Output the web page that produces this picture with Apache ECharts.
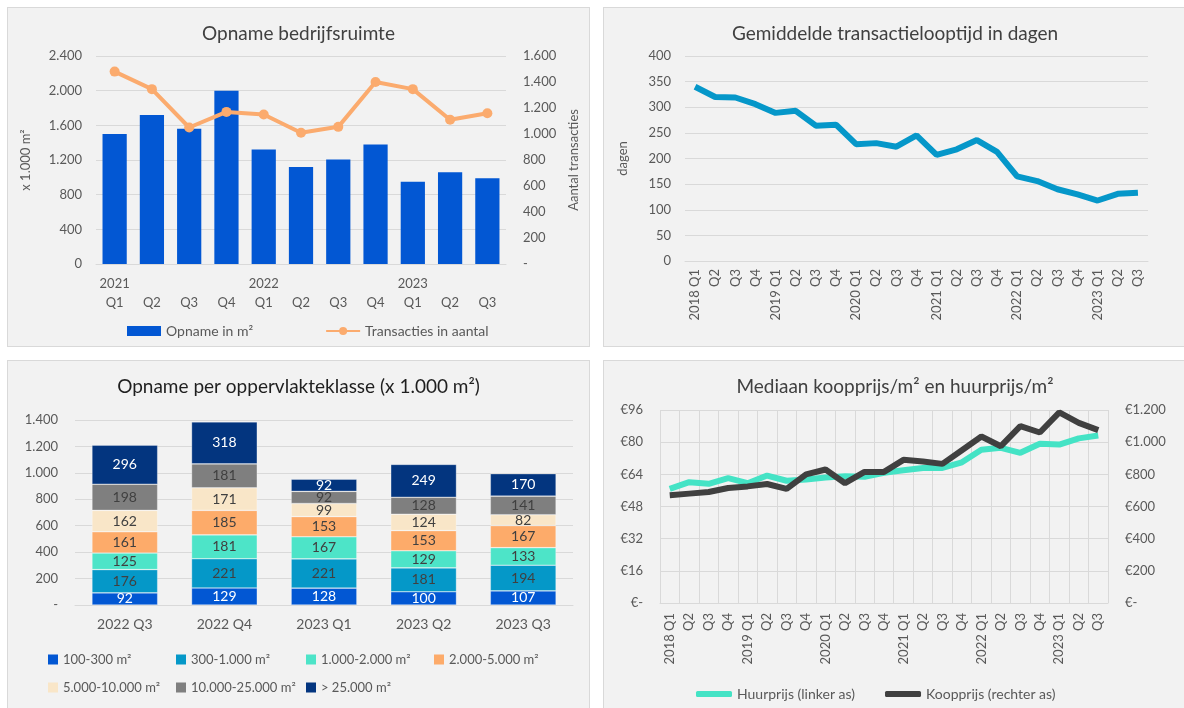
<!DOCTYPE html>
<html>
<head>
<meta charset="utf-8">
<script src="https://cdn.jsdelivr.net/npm/echarts@6/dist/echarts.min.js"></script>
<style>
  body { margin: 0; background: #fff; width: 1184px; height: 708px; overflow: hidden; position: relative; }
  .paneel { position: absolute; background: #f2f2f2; border: 1px solid #d9d9d9; box-sizing: border-box; }
  #opname_show { left: 7px; top: 7px; width: 583px; height: 340px; }
  #looptijd_show { left: 603px; top: 7px; width: 584px; height: 340px; }
  #klasse_show { left: 7px; top: 360px; width: 583px; height: 352px; }
  #prijs_show { left: 603px; top: 360px; width: 584px; height: 352px; }
</style>
</head>
<body>
<div class="paneel" id="opname_show"></div>
<div class="paneel" id="looptijd_show"></div>
<div class="paneel" id="klasse_show"></div>
<div class="paneel" id="prijs_show"></div>
<script>
// ---- data ----
// 1. opname bedrijfsruimte
const kwartalen1 = ['2021 Q1', '2021 Q2', '2021 Q3', '2021 Q4', '2022 Q1', '2022 Q2', '2022 Q3', '2022 Q4', '2023 Q1', '2023 Q2', '2023 Q3'];
const opname = [1500, 1720, 1560, 2000, 1320, 1120, 1205, 1380, 950, 1060, 990];
const transacties = [1480, 1345, 1050, 1170, 1150, 1010, 1055, 1400, 1345, 1110, 1160];

// 2. transactielooptijd (en 4. prijzen) per kwartaal
const kwartalen2 = ['2018 Q1', '2018 Q2', '2018 Q3', '2018 Q4', '2019 Q1', '2019 Q2', '2019 Q3', '2019 Q4',
  '2020 Q1', '2020 Q2', '2020 Q3', '2020 Q4', '2021 Q1', '2021 Q2', '2021 Q3', '2021 Q4',
  '2022 Q1', '2022 Q2', '2022 Q3', '2022 Q4', '2023 Q1', '2023 Q2', '2023 Q3'];
const looptijd = [340, 320, 319, 306, 289, 293, 264, 266, 228, 230, 223, 245, 207, 218, 236, 213, 165, 156, 140, 130, 118, 131, 133];

// 3. opname per oppervlakteklasse
const kwartalen3 = ['2022 Q3', '2022 Q4', '2023 Q1', '2023 Q2', '2023 Q3'];
const klassen = ['100-300 m²', '300-1.000 m²', '1.000-2.000 m²', '2.000-5.000 m²', '5.000-10.000 m²', '10.000-25.000 m²', '> 25.000 m²'];
const k100 = [92, 129, 128, 100, 107];
const k300 = [176, 221, 221, 181, 194];
const k1000 = [125, 181, 167, 129, 133];
const k2000 = [161, 185, 153, 153, 167];
const k5000 = [162, 171, 99, 124, 82];
const k10000 = [198, 181, 92, 128, 141];
const k25000 = [296, 318, 92, 249, 170];

// 4. mediaan prijzen
const huurprijs = [56.8, 60.1, 59.3, 62.1, 59.6, 63.4, 60.8, 61.4, 62.4, 63, 62.8, 64.8, 66, 67.2, 67.2, 70, 76.2, 77.2, 74.7, 79.2, 78.8, 81.9, 83.3];
const koopprijs = [670, 680, 690, 715, 725, 740, 710, 800, 830, 745, 815, 815, 890, 880, 865, 950, 1035, 975, 1100, 1060, 1185, 1120, 1075];

// ---- hulpfuncties ----
const font = 'Lato, "Noto Sans", sans-serif';
const grijs = '#595959';
const lijn = '#d9d9d9';
// duizendtallen met punt
function punt(v) {
  return String(v).replace(/\B(?=(\d{3})+(?!\d))/g, '.');
}
function streep(v) {
  return v === 0 ? '-' : punt(v);
}
function kwartaal(v) {
  return v.endsWith('Q1') ? v : v.slice(5);
}
function titel(tekst, kleur) {
  return {
    text: tekst, left: 'center', top: 16, padding: 0,
    textStyle: { fontSize: 19, fontWeight: 'normal', color: kleur || '#404040', fontFamily: font }
  };
}

// 1. staaf + lijn
function opnameChart() {
  const myChart = echarts.init(document.getElementById('opname_show'));
  const option = {
    textStyle: { fontFamily: font },
    title: titel('Opname bedrijfsruimte'),
    legend: {
      top: 316, left: 119, padding: 0, itemGap: 72, itemWidth: 34, itemHeight: 10,
      textStyle: { fontSize: 14, color: grijs },
      data: [{ name: 'Opname in m²', icon: 'rect' }, 'Transacties in aantal']
    },
    grid: { left: 88, top: 48, width: 410, height: 208 },
    xAxis: {
      type: 'category',
      data: kwartalen1,
      axisTick: { show: false },
      axisLine: { lineStyle: { color: lijn } },
      axisLabel: {
        interval: 0, color: grijs, fontSize: 13, lineHeight: 19, margin: 10,
        formatter: v => v.endsWith('Q1') ? v.replace(' ', '\n') : '\n' + v.slice(5)
      }
    },
    yAxis: [{
      type: 'value', min: 0, max: 2400, interval: 400,
      name: 'x 1.000 m²', nameLocation: 'middle', nameGap: 64,
      nameTextStyle: { fontSize: 13, color: grijs },
      axisLabel: { color: grijs, fontSize: 13, margin: 14, formatter: punt },
      splitLine: { lineStyle: { color: lijn } }
    }, {
      type: 'value', min: 0, max: 1600, interval: 200,
      name: 'Aantal transacties', nameLocation: 'middle', nameGap: 55,
      nameTextStyle: { fontSize: 13, color: grijs },
      axisLabel: { color: grijs, fontSize: 13, margin: 17, formatter: streep },
      splitLine: { show: false }
    }],
    series: [{
      name: 'Opname in m²',
      type: 'bar',
      data: opname,
      barCategoryGap: '35%',
      itemStyle: { color: '#0257d3' }
    }, {
      name: 'Transacties in aantal',
      type: 'line',
      yAxisIndex: 1,
      data: transacties,
      symbol: 'circle',
      symbolSize: 10,
      lineStyle: { width: 4, color: '#fbab6e' },
      itemStyle: { color: '#fbab6e' }
    }]
  };
  myChart.setOption(option);
}

// 2. lijn looptijd
function looptijdChart() {
  const myChart = echarts.init(document.getElementById('looptijd_show'));
  const option = {
    textStyle: { fontFamily: font },
    title: titel('Gemiddelde transactielooptijd in dagen'),
    grid: { left: 81, top: 48, width: 463, height: 205 },
    xAxis: {
      type: 'category',
      data: kwartalen2,
      axisTick: { show: false },
      axisLine: { lineStyle: { color: lijn } },
      axisLabel: { interval: 0, rotate: 90, color: grijs, fontSize: 13, margin: 8, formatter: kwartaal }
    },
    yAxis: {
      type: 'value', min: 0, max: 400, interval: 50,
      name: 'dagen', nameLocation: 'middle', nameGap: 56,
      nameTextStyle: { fontSize: 13, color: grijs },
      axisLabel: { color: grijs, fontSize: 13, margin: 14 },
      splitLine: { lineStyle: { color: lijn } }
    },
    series: [{
      type: 'line',
      data: looptijd,
      showSymbol: false,
      lineStyle: { width: 6, color: '#0597c9' }
    }]
  };
  myChart.setOption(option);
}

// 3. gestapelde staaf
function klasseChart() {
  const myChart = echarts.init(document.getElementById('klasse_show'));
  const kleuren = ['#0257d3', '#0598c8', '#4de4c8', '#fdab6a', '#f9e6c8', '#7f7f7f', '#03357f'];
  const waarden = [k100, k300, k1000, k2000, k5000, k10000, k25000];
  const series = klassen.map((naam, i) => ({
    name: naam,
    type: 'bar',
    stack: 'totaal',
    data: waarden[i],
    barCategoryGap: '34%',
    itemStyle: { color: kleuren[i], borderColor: 'rgba(255,255,255,0.5)', borderWidth: 0.6 },
    label: {
      show: true, position: 'inside', fontSize: 14,
      color: (i === 0 || i === 6) ? '#ffffff' : '#404040'
    }
  }));
  const legendaStijl = {
    orient: 'vertical', top: 292, padding: 0, itemGap: 15, itemWidth: 10, itemHeight: 10, icon: 'rect',
    itemStyle: { borderWidth: 0 },
    textStyle: { fontSize: 13, color: grijs }
  };
  const option = {
    textStyle: { fontFamily: font },
    title: titel('Opname per oppervlakteklasse (x 1.000 m²)', '#1f1f1f'),
    legend: [
      Object.assign({ left: 40, data: [klassen[0], klassen[4]] }, legendaStijl),
      Object.assign({ left: 168, data: [klassen[1], klassen[5]] }, legendaStijl),
      Object.assign({ left: 298, data: [klassen[2], klassen[6]] }, legendaStijl),
      Object.assign({ left: 426, data: [klassen[3]] }, legendaStijl)
    ],
    grid: { left: 67, top: 59, width: 498, height: 185 },
    xAxis: {
      type: 'category',
      data: kwartalen3,
      axisTick: { show: false },
      axisLine: { lineStyle: { color: lijn } },
      axisLabel: { color: grijs, fontSize: 14, margin: 12 }
    },
    yAxis: {
      type: 'value', min: 0, max: 1400, interval: 200,
      axisLabel: { color: grijs, fontSize: 13, margin: 17, formatter: streep },
      splitLine: { lineStyle: { color: lijn } }
    },
    series: series
  };
  myChart.setOption(option);
}

// 4. lijnen koop- en huurprijs
function prijsChart() {
  const myChart = echarts.init(document.getElementById('prijs_show'));
  const option = {
    textStyle: { fontFamily: font },
    title: titel('Mediaan koopprijs/m² en huurprijs/m²'),
    legend: {
      top: 326, left: 92, padding: 0, itemGap: 30, itemWidth: 36, itemHeight: 6, icon: 'roundRect',
      textStyle: { fontSize: 14, color: grijs }
    },
    grid: { left: 56, top: 49, width: 448, height: 193 },
    xAxis: {
      type: 'category',
      data: kwartalen2,
      axisTick: { show: false },
      axisLine: { lineStyle: { color: lijn } },
      splitLine: { show: true, lineStyle: { color: lijn } },
      axisLabel: { interval: 0, rotate: 90, color: grijs, fontSize: 13, margin: 10, formatter: kwartaal }
    },
    yAxis: [{
      type: 'value', min: 0, max: 96, interval: 16,
      axisLabel: { color: grijs, fontSize: 13, margin: 17, formatter: v => v === 0 ? '€-' : '€' + v },
      splitLine: { lineStyle: { color: lijn } }
    }, {
      type: 'value', min: 0, max: 1200, interval: 200,
      axisLabel: { color: grijs, fontSize: 13, margin: 17, formatter: v => v === 0 ? '€-' : '€' + punt(v) },
      splitLine: { show: false }
    }],
    series: [{
      name: 'Huurprijs (linker as)',
      type: 'line',
      data: huurprijs,
      showSymbol: false,
      lineStyle: { width: 6, color: '#44e3c5' },
      itemStyle: { color: '#44e3c5' }
    }, {
      name: 'Koopprijs (rechter as)',
      type: 'line',
      yAxisIndex: 1,
      data: koopprijs,
      showSymbol: false,
      lineStyle: { width: 6, color: '#404040' },
      itemStyle: { color: '#404040' }
    }]
  };
  myChart.setOption(option);
}

opnameChart();
looptijdChart();
klasseChart();
prijsChart();
</script>
</body>
</html>
